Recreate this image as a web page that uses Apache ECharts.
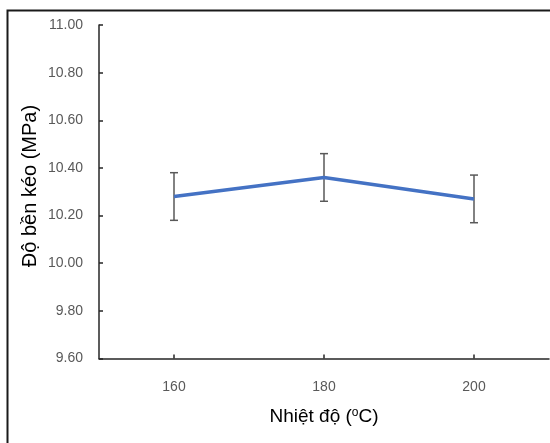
<!DOCTYPE html>
<html>
<head>
<meta charset="utf-8">
<script src="https://cdn.jsdelivr.net/npm/echarts@6/dist/echarts.min.js"></script>
<style>
  html, body { margin: 0; padding: 0; background: #fff; }
  #chart { width: 550px; height: 443px; }
</style>
</head>
<body>
<div id="chart"></div>
<script>
// Tensile strength vs. processing temperature, with standard-deviation bars
const temperatures = ['160', '180', '200'];
const strengthMean = [10.28, 10.36, 10.27];
const strengthErr = [0.10, 0.10, 0.10];
const yTicks = { min: 9.6, max: 11.0, step: 0.2 };

const chart = echarts.init(document.getElementById('chart'), null, { renderer: 'canvas' });

const errorData = temperatures.map((t, i) => [i, strengthMean[i] - strengthErr[i], strengthMean[i] + strengthErr[i]]);

const labelFont = 'Liberation Sans, Arial, sans-serif';

const option = {
  animation: false,
  backgroundColor: '#ffffff',
  grid: { left: 99, right: 1, top: 25, bottom: 84.5, containLabel: false },
  xAxis: {
    type: 'category',
    data: temperatures,
    boundaryGap: true,
    axisLine: { lineStyle: { color: '#262626', width: 1.5 } },
    axisTick: { show: true, inside: true, alignWithLabel: true, length: 4, lineStyle: { color: '#262626', width: 1.5 } },
    axisLabel: { color: '#595959', fontSize: 14, fontFamily: labelFont, margin: 22 },
    splitLine: { show: false }
  },
  yAxis: {
    type: 'value',
    min: yTicks.min,
    max: yTicks.max,
    interval: yTicks.step,
    axisLine: { show: true, lineStyle: { color: '#262626', width: 1.5 } },
    axisTick: { show: true, inside: true, length: 4, lineStyle: { color: '#262626', width: 1.5 } },
    axisLabel: {
      color: '#595959', fontSize: 14, fontFamily: labelFont, margin: 16,
      formatter: v => v.toFixed(2)
    },
    splitLine: { show: false }
  },
  graphic: [
    // outer frame (top and left edges)
    { type: 'polyline', silent: true, shape: { points: [[7.5, 445], [7.5, 10.5], [552, 10.5]] },
      style: { stroke: '#1a1a1a', lineWidth: 2, fill: null } },
    { type: 'text', x: 30, y: 186, rotation: Math.PI / 2,
      style: { text: 'Độ bền kéo (MPa)', fontSize: 20, fontFamily: labelFont,
               fill: '#000', align: 'center', verticalAlign: 'middle' } },
    { type: 'text', x: 324, y: 417,
      style: {
        text: '{n|Nhiệt độ (}{s|o}{n|C)}',
        align: 'center', verticalAlign: 'middle',
        rich: {
          n: { fontSize: 19, fontFamily: labelFont, fill: '#000' },
          s: { fontSize: 12, fontFamily: labelFont, fill: '#000', verticalAlign: 'top', padding: [0, 0, 8, 0] }
        }
      } }
  ],
  series: [
    {
      type: 'custom',
      name: 'error',
      z: 1,
      data: errorData,
      renderItem: (params, api) => {
        const x = api.value(0);
        const lo = api.coord([x, api.value(1)]);
        const hi = api.coord([x, api.value(2)]);
        const cap = 4;
        const style = { stroke: '#595959', lineWidth: 1.5 };
        return {
          type: 'group',
          children: [
            { type: 'line', shape: { x1: lo[0], y1: lo[1], x2: hi[0], y2: hi[1] }, style },
            { type: 'line', shape: { x1: hi[0] - cap, y1: hi[1], x2: hi[0] + cap, y2: hi[1] }, style },
            { type: 'line', shape: { x1: lo[0] - cap, y1: lo[1], x2: lo[0] + cap, y2: lo[1] }, style }
          ]
        };
      }
    },
    {
      type: 'line',
      name: 'strength',
      z: 2,
      data: strengthMean,
      symbol: 'none',
      lineStyle: { color: '#4472C4', width: 3.5 },
      itemStyle: { color: '#4472C4' }
    }
  ]
};

chart.setOption(option);
</script>
</body>
</html>
